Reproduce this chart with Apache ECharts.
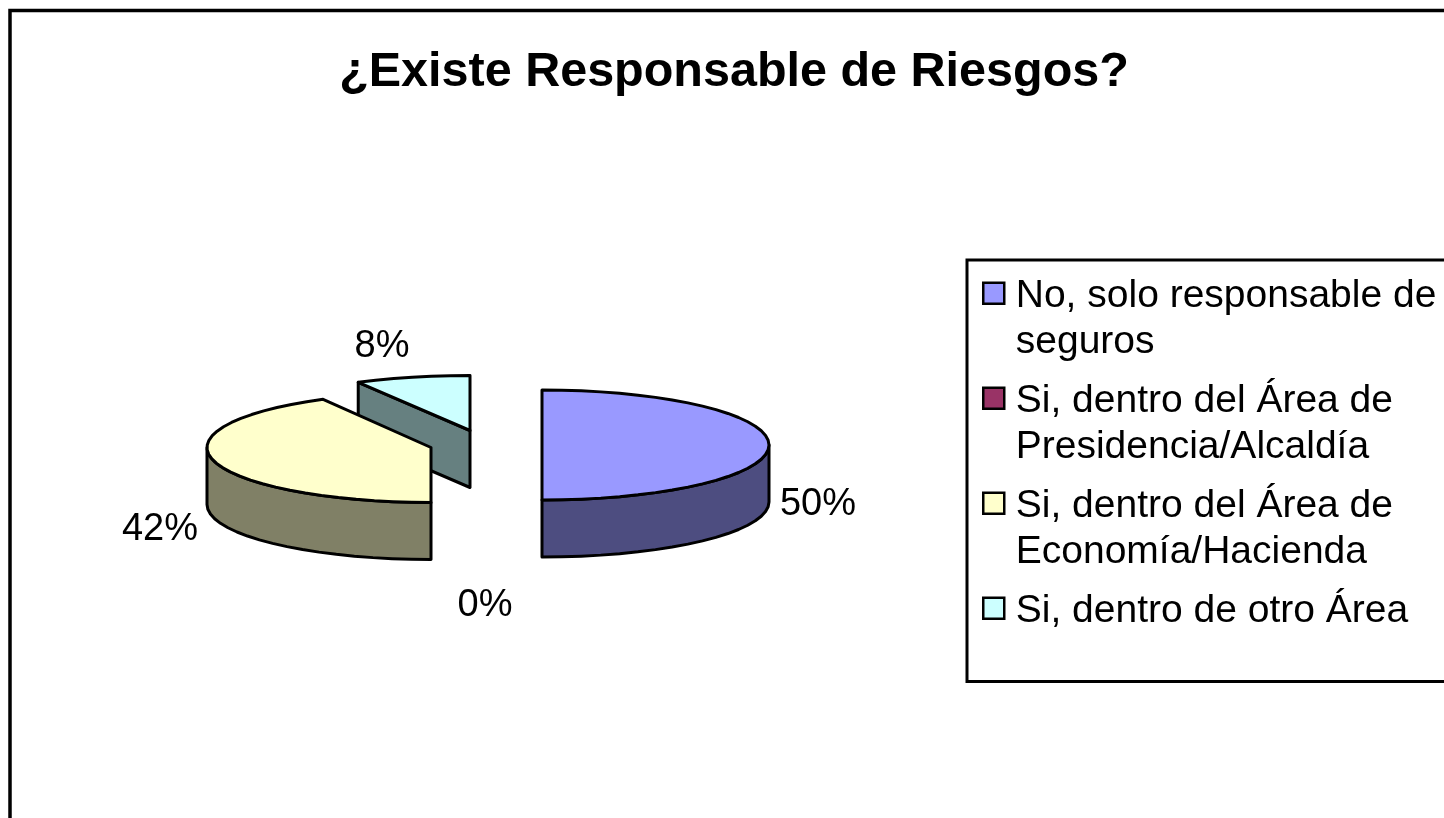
<!DOCTYPE html>
<html>
<head>
<meta charset="utf-8">
<style>
html, body { margin: 0; padding: 0; background: #fff; overflow: hidden; }
#chart { width: 1444px; height: 818px; }
</style>
<script src="https://cdn.jsdelivr.net/npm/echarts@6/dist/echarts.min.js"></script>
</head>
<body>
<div id="chart"></div>
<script>
const chartTitle = '¿Existe Responsable de Riesgos?';
// every legend entry holds two lines so the key stays level with the first one
const categories = [
    'No, solo responsable de\nseguros',
    'Si, dentro del Área de\nPresidencia/Alcaldía',
    'Si, dentro del Área de\nEconomía/Hacienda',
    'Si, dentro de otro Área\n '
];
const values = [50, 0, 42, 8];
const topColors = ['#9999FF', '#993366', '#FFFFCC', '#CCFFFF'];
const wallColors = ['#4D4D80', '#4D1A33', '#808066', '#668080'];

// layout of the tilted pie, in pixels
const radiiX = [227, 227, 224, 232];
const radiusY = 55;
const depth = 57;
const sliceCenters = [[542, 445], [486, 500], [431, 447.5], [470, 430.5]];
const labelCenters = [[818, 505], [485, 606], [160, 530], [382, 347]];
const sliceZ = [3, 2, 2, 1];

const total = values.reduce((a, b) => a + b, 0);
const startAngles = [];
values.reduce((sum, v, i) => {
    startAngles[i] = sum / total * 360;
    return sum + v;
}, 0);

function rim(i, deg, drop) {
    const c = sliceCenters[i];
    const r = deg * Math.PI / 180;
    return [c[0] + radiiX[i] * Math.sin(r), c[1] - radiusY * Math.cos(r) + (drop || 0)];
}

function arc(i, from, to, drop) {
    const pts = [];
    const n = Math.max(1, Math.ceil((to - from) / 5));
    for (let k = 0; k <= n; k++) pts.push(rim(i, from + (to - from) * k / n, drop));
    return pts;
}

const edge = { stroke: '#000', lineWidth: 3, lineJoin: 'round' };

function renderSlice(params, api) {
    const i = params.seriesIndex;
    const c = sliceCenters[i];
    const v = api.value(0);
    const from = startAngles[i];
    const to = from + v / total * 360;
    const children = [];
    const poly = (points, fill) => children.push({
        type: 'polygon',
        shape: { points: points },
        style: Object.assign({ fill: fill }, edge)
    });

    if (v > 0) {
        // cut face turned towards the viewer
        if (from > 180 && from < 360) {
            const p = rim(i, from);
            poly([c, p, [p[0], p[1] + depth], [c[0], c[1] + depth]], wallColors[i]);
        }
        // outer wall, front half of the rim only
        const a = Math.max(from, 90);
        const b = Math.min(to, 270);
        if (b > a) {
            poly(arc(i, a, b).concat(arc(i, a, b, depth).reverse()), wallColors[i]);
        }
        poly([c].concat(arc(i, from, to)), topColors[i]);
    }

    children.push({
        type: 'text',
        style: {
            text: v + '%',
            x: labelCenters[i][0],
            y: labelCenters[i][1],
            align: 'center',
            verticalAlign: 'middle',
            fill: '#000',
            font: '38px "Liberation Sans"'
        }
    });
    return { type: 'group', children: children };
}

const chart = echarts.init(document.getElementById('chart'), null, { renderer: 'canvas' });

chart.setOption({
    animation: false,
    backgroundColor: '#fff',
    textStyle: { fontFamily: 'Liberation Sans' },
    title: {
        text: chartTitle,
        left: 729,
        top: 43,
        textAlign: 'center',
        textStyle: { fontFamily: 'Liberation Sans', fontSize: 48.5, fontWeight: 'bold', color: '#000' }
    },
    legend: {
        orient: 'vertical',
        left: 967,
        top: 260,
        padding: [12, 60, 0, 15],
        borderColor: '#000',
        borderWidth: 3,
        itemWidth: 27.5,
        itemHeight: 92,
        itemGap: 10.5,
        selectedMode: false,
        data: categories,
        icon: 'path://M0 9.5H21V30.5H0Z M0 0L0 0 M27.5 92L27.5 92',
        itemStyle: { borderColor: '#000', borderWidth: 2.5 },
        textStyle: { fontFamily: 'Liberation Sans', fontSize: 39, lineHeight: 46, color: '#000' }
    },
    graphic: [{
        // chart frame, runs off the right and bottom of the picture
        type: 'rect',
        shape: { x: 10, y: 10.5, width: 1500, height: 900 },
        style: { fill: 'none', stroke: '#000', lineWidth: 3.5 },
        silent: true,
        z: -1
    }],
    series: categories.map((name, i) => ({
        type: 'custom',
        name: name,
        coordinateSystem: 'none',
        z: sliceZ[i],
        silent: true,
        itemStyle: { color: topColors[i] },
        renderItem: renderSlice,
        data: [values[i]]
    }))
});
</script>
</body>
</html>
